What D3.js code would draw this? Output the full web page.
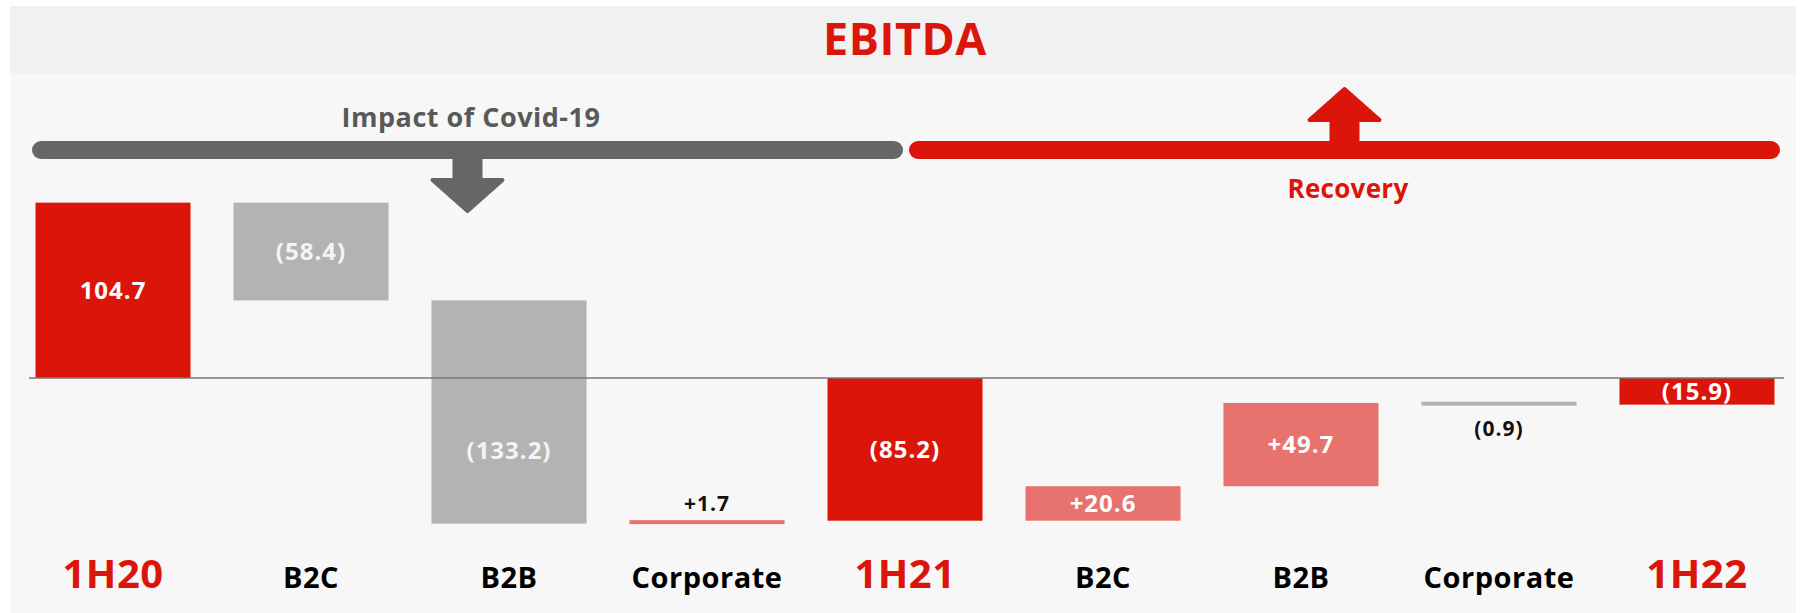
<!DOCTYPE html>
<html>
<head>
<meta charset="utf-8">
<script src="https://cdn.jsdelivr.net/npm/d3@7"></script>
<style>
  body { margin: 0; background: #ffffff; }
  text { font-family: "Open Sans", "DejaVu Sans", sans-serif; font-weight: 700; }
</style>
</head>
<body>
<script>
// chart data
const categories = ['1H20', 'B2C', 'B2B', 'Corporate', '1H21', 'B2C', 'B2B', 'Corporate', '1H22'];
const kinds = ['total', 'delta', 'delta', 'delta', 'total', 'delta', 'delta', 'delta', 'total'];
const values = [104.7, -58.4, -133.2, 1.7, -85.2, 20.6, 49.7, -0.9, -15.9];
const valueLabels = ['104.7', '(58.4)', '(133.2)', '+1.7', '(85.2)', '+20.6', '+49.7', '(0.9)', '(15.9)'];
const banners = ['Impact of Covid-19', 'Recovery'];

const width = 1806;
const height = 613;

const red = '#dc150b';
const lightRed = '#e8726d';
const grey = '#b3b3b3';
const darkGrey = '#666666';

const svg = d3.select('body').append('svg')
  .attr('width', width)
  .attr('height', height);

// background panels
svg.append('rect')
  .attr('x', 10).attr('y', 6)
  .attr('width', 1786).attr('height', 68)
  .attr('fill', '#f1f1f1');
svg.append('rect')
  .attr('x', 10).attr('y', 74)
  .attr('width', 1786).attr('height', height - 74)
  .attr('fill', '#f7f7f7');

// title
svg.append('text')
  .attr('x', 905)
  .attr('y', 55)
  .attr('text-anchor', 'middle')
  .style('font-size', '45px')
  .style('letter-spacing', '0.5px')
  .attr('fill', red)
  .text('EBITDA');

// scales
const x = d3.scaleBand()
  .domain(d3.range(categories.length))
  .range([14, 1796])
  .paddingInner(0.217)
  .paddingOuter(0.1086);

const y = d3.scaleLinear()
  .domain([-140, 110])
  .range([612.5, 193.75]);

// build waterfall steps
let running = 0;
const steps = values.map((v, i) => {
  let start; let end;
  if (kinds[i] === 'total') {
    start = 0;
    end = v;
  } else {
    start = running;
    end = running + v;
  }
  running = end;
  let color = v >= 0 ? lightRed : grey;
  if (kinds[i] === 'total') color = red;
  return {
    i, start, end, v, color, label: valueLabels[i], kind: kinds[i],
  };
});

// bars
const minH = 4;
svg.append('g').selectAll('rect')
  .data(steps)
  .enter().append('rect')
  .attr('x', d => x(d.i))
  .attr('width', x.bandwidth())
  .attr('y', (d) => {
    const top = y(Math.max(d.start, d.end));
    const h = Math.abs(y(d.start) - y(d.end));
    return h < minH ? top - (minH - h) / 2 : top;
  })
  .attr('height', d => Math.max(minH, Math.abs(y(d.start) - y(d.end))))
  .attr('fill', d => d.color);

// zero line
svg.append('line')
  .attr('x1', 29)
  .attr('x2', 1784)
  .attr('y1', y(0))
  .attr('y2', y(0))
  .attr('stroke', '#777777')
  .attr('stroke-opacity', 0.75)
  .attr('stroke-width', 2);

// value labels
svg.append('g').selectAll('text')
  .data(steps)
  .enter().append('text')
  .attr('x', d => x(d.i) + x.bandwidth() / 2)
  .attr('text-anchor', 'middle')
  .attr('dy', '0.35em')
  .style('letter-spacing', '1px')
  .style('font-size', (d) => {
    const h = Math.abs(y(d.start) - y(d.end));
    return h < 20 ? '21px' : '24px';
  })
  .attr('fill', (d) => {
    const h = Math.abs(y(d.start) - y(d.end));
    if (h < 20) return '#111111';
    return d.color === grey ? '#f4f4f4' : '#ffffff';
  })
  .attr('y', (d) => {
    const hi = Math.max(d.start, d.end);
    const lo = Math.min(d.start, d.end);
    const h = Math.abs(y(d.start) - y(d.end));
    if (h < 20) {
      // small bars: label outside
      return d.v >= 0 ? y(hi) - 17 : y(lo) + 24;
    }
    if (hi > 0 && lo < 0) {
      // crosses zero, centre in the bigger part
      return hi > -lo ? y(hi / 2) : y(lo / 2);
    }
    return y((hi + lo) / 2);
  })
  .text(d => d.label);

// category labels
svg.append('g').selectAll('text')
  .data(steps)
  .enter().append('text')
  .attr('x', d => x(d.i) + x.bandwidth() / 2)
  .attr('y', 588)
  .attr('text-anchor', 'middle')
  .style('font-size', d => (d.kind === 'total' ? '40px' : '29px'))
  .style('letter-spacing', '0.5px')
  .attr('fill', d => (d.kind === 'total' ? red : '#000000'))
  .text(d => categories[d.i]);

// banners with arrows
const bannerSpans = [[32, 903], [909, 1780]];
const bannerColors = [darkGrey, red];
const bannerY = 150;

bannerSpans.forEach((s, k) => {
  svg.append('line')
    .attr('x1', s[0] + 9)
    .attr('x2', s[1] - 9)
    .attr('y1', bannerY)
    .attr('y2', bannerY)
    .attr('stroke', bannerColors[k])
    .attr('stroke-width', 18)
    .attr('stroke-linecap', 'round');
});

function arrow(cx, dir, color) {
  // dir 1 = down, -1 = up
  const stemW = 13;
  const headW = 35;
  const stemEnd = bannerY + dir * 30;
  const tip = bannerY + dir * 61;
  const p = d3.path();
  p.moveTo(cx - stemW, bannerY);
  p.lineTo(cx - stemW, stemEnd);
  p.lineTo(cx - headW, stemEnd);
  p.lineTo(cx, tip);
  p.lineTo(cx + headW, stemEnd);
  p.lineTo(cx + stemW, stemEnd);
  p.lineTo(cx + stemW, bannerY);
  p.closePath();
  svg.append('path')
    .attr('d', p.toString())
    .attr('fill', color)
    .attr('stroke', color)
    .attr('stroke-width', 4)
    .attr('stroke-linejoin', 'round');
}

arrow((bannerSpans[0][0] + bannerSpans[0][1]) / 2, 1, darkGrey);
arrow((bannerSpans[1][0] + bannerSpans[1][1]) / 2, -1, red);

svg.append('text')
  .attr('x', 471)
  .attr('y', 127)
  .attr('text-anchor', 'middle')
  .style('font-size', '27px')
  .style('letter-spacing', '0.5px')
  .attr('fill', '#595959')
  .text(banners[0]);

svg.append('text')
  .attr('x', 1348)
  .attr('y', 198)
  .attr('text-anchor', 'middle')
  .style('font-size', '26px')
  .style('letter-spacing', '0.3px')
  .attr('fill', red)
  .text(banners[1]);
</script>
</body>
</html>
